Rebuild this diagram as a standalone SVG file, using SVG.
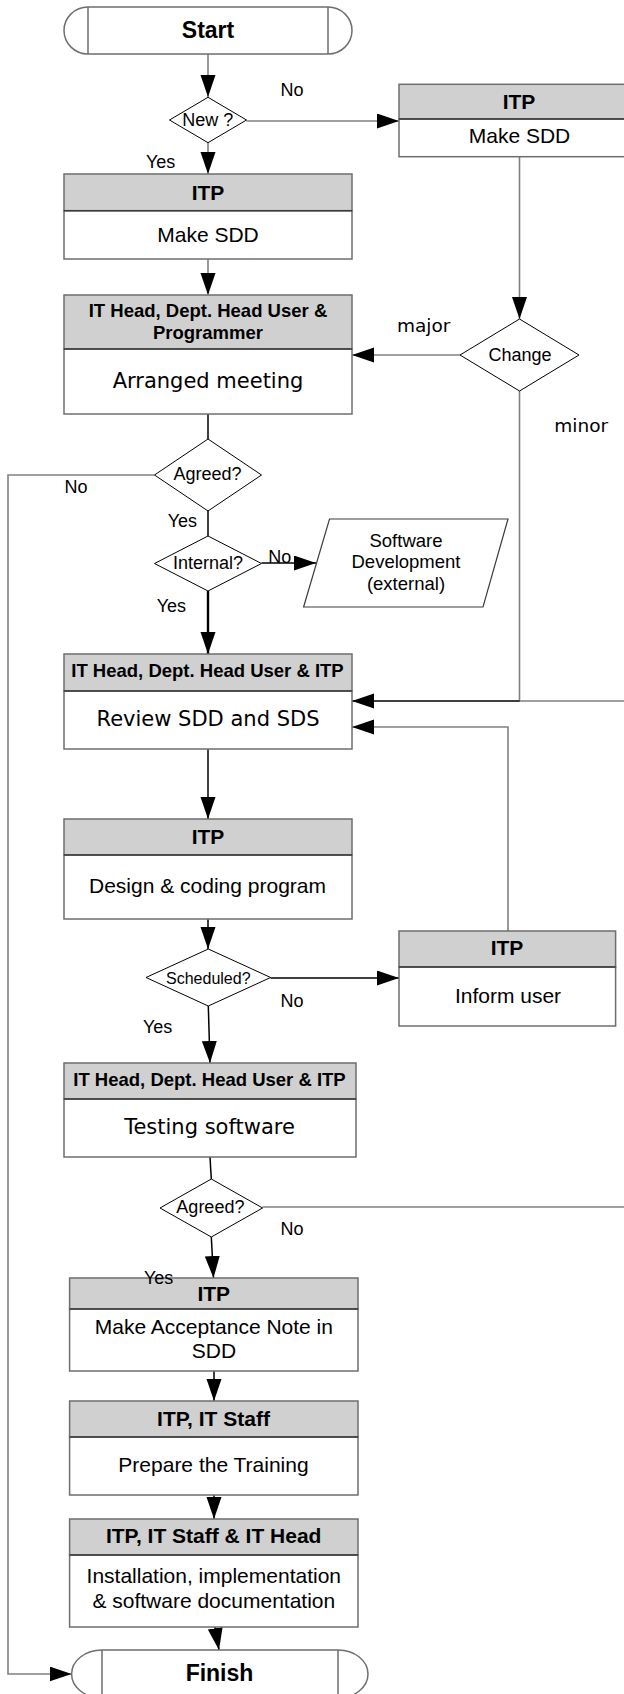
<svg xmlns="http://www.w3.org/2000/svg" width="624" height="1694" viewBox="0 0 624 1694">
  <defs>
    <marker id="arrow" markerUnits="userSpaceOnUse" markerWidth="24" markerHeight="16" refX="22" refY="7.5" orient="auto">
      <path d="M0,0 L22,7.5 L0,15 Z" fill="#000"/>
    </marker>
    <style>
      .box { fill: #fff; stroke: #6e6e6e; stroke-width: 1.5; }
      .head { fill: #d0d0d0; stroke: #6e6e6e; stroke-width: 1.5; }
      .sep { stroke: #3c3c3c; stroke-width: 1.5; }
      .term { fill: #fff; stroke: #6e6e6e; stroke-width: 1.5; }
      .dia { fill: #fff; stroke: #000; stroke-width: 1; }
      .para { fill: #fff; stroke: #3c3c3c; stroke-width: 1.2; }
      .grey { fill: none; stroke: #808080; stroke-width: 1.6; }
      .dark { fill: none; stroke: #000; stroke-width: 1.5; }
      .thick { fill: none; stroke: #000; stroke-width: 2.4; }
      .arr { marker-end: url(#arrow); }
      text { font-family: "Liberation Sans", Arial, sans-serif; fill: #000; }
      .tt { font-size: 23px; font-weight: bold; text-anchor: middle; }
      .ht { font-size: 21px; font-weight: bold; text-anchor: middle; }
      .hs { font-size: 18.5px; font-weight: bold; text-anchor: middle; }
      .bt { font-size: 21px; text-anchor: middle; }
      .vt { font-family: "DejaVu Sans", Verdana, sans-serif; font-size: 21px; text-anchor: middle; }
      .vl { font-family: "DejaVu Sans", Verdana, sans-serif; font-size: 18.5px; }
      .dt { font-size: 18px; text-anchor: middle; }
      .lb { font-size: 18px; }
      .pt { font-size: 18.5px; text-anchor: middle; }
    </style>
  </defs>

  <rect width="624" height="1694" fill="#fff"/>

  <!-- connectors -->
  <g id="connectors">
    <path class="grey arr" d="M208,54 V97"/>
    <path class="grey arr" d="M246.5,121 H399"/>
    <path class="grey arr" d="M208,142.7 V174"/>
    <path class="grey arr" d="M208,259 V295"/>
    <path class="grey arr" d="M519.5,156.7 V319"/>
    <path class="grey arr" d="M460,355 H352"/>
    <path class="dark" d="M208,414 V439"/>
    <path class="grey arr" d="M154.5,475 H8 V1674 H71.6"/>
    <path class="dark" d="M208,511 V536"/>
    <path class="dark arr" d="M261.5,563 H316"/>
    <path class="thick arr" d="M208,591 V654"/>
    <path class="grey" d="M519.5,391 V701 H630"/>
    <path class="grey" d="M262.6,1207 H630 V701"/>
    <path class="dark arr" d="M519.5,701 H352"/>
    <path class="grey arr" d="M508,931 V727 H352"/>
    <path class="dark arr" d="M208,749 V819"/>
    <path class="dark arr" d="M208,919 V949"/>
    <path class="dark arr" d="M270.6,978 H399"/>
    <path class="dark arr" d="M208.3,1006 L210,1063"/>
    <path class="dark" d="M210,1157 L211.3,1179"/>
    <path class="dark arr" d="M211.3,1237 L213.5,1278"/>
    <path class="dark arr" d="M214,1371 V1401"/>
    <path class="dark arr" d="M214,1495 V1519"/>
    <path class="dark arr" d="M215,1627 L219,1650"/>
  </g>

  <!-- Start terminal -->
  <g id="start">
    <path class="term" d="M88,7 H328 A24,23.5 0 0 1 328,54 H88 A24,23.5 0 0 1 88,7 Z"/>
    <path class="term" d="M88,7 V54 M328,7 V54"/>
    <text class="tt" x="208" y="38">Start</text>
  </g>

  <!-- New ? decision -->
  <g id="dec-new">
    <polygon class="dia" points="208,97.3 246.5,120 208,142.7 169.5,120"/>
    <text class="dt" x="207.7" y="126">New ?</text>
    <text class="lb" x="280.5" y="95.7">No</text>
    <text class="lb" x="146" y="167.7">Yes</text>
  </g>

  <!-- ITP / Make SDD (existing) -->
  <g id="itp-sdd-right">
    <rect class="head" x="399" y="84.3" width="241" height="34.7"/>
    <rect class="box" x="399" y="119" width="241" height="37.7"/>
    <line class="sep" x1="399" y1="119" x2="640" y2="119"/>
    <text class="ht" x="519" y="109.3">ITP</text>
    <text class="bt" x="519.5" y="143.3">Make SDD</text>
  </g>

  <!-- ITP / Make SDD (new) -->
  <g id="itp-sdd-left">
    <rect class="head" x="64" y="174" width="288" height="36.7"/>
    <rect class="box" x="64" y="210.7" width="288" height="48.3"/>
    <line class="sep" x1="64" y1="210.7" x2="352" y2="210.7"/>
    <text class="ht" x="208" y="199.5">ITP</text>
    <text class="bt" x="208" y="241.7">Make SDD</text>
  </g>

  <!-- Arranged meeting -->
  <g id="meeting">
    <rect class="head" x="64" y="295" width="288" height="54"/>
    <rect class="box" x="64" y="349" width="288" height="65"/>
    <line class="sep" x1="64" y1="349" x2="352" y2="349"/>
    <text class="hs" x="208" y="316.7">IT Head, Dept. Head User &amp;</text>
    <text class="hs" x="208" y="339">Programmer</text>
    <text class="vt" x="208" y="388.3">Arranged meeting</text>
  </g>

  <!-- Change decision -->
  <g id="dec-change">
    <polygon class="dia" points="519.5,319 579,355 519.5,391 460,355"/>
    <text class="dt" x="520" y="360.7">Change</text>
    <text class="vl" x="397" y="332">major</text>
    <text class="vl" x="554.3" y="431.7">minor</text>
  </g>

  <!-- Agreed? decision (meeting) -->
  <g id="dec-agreed1">
    <polygon class="dia" points="208,439 261.5,475 208,511 154.5,475"/>
    <text class="dt" x="207.5" y="480">Agreed?</text>
    <text class="lb" x="64.5" y="492.7">No</text>
    <text class="lb" x="167.7" y="526.7">Yes</text>
  </g>

  <!-- Internal? decision -->
  <g id="dec-internal">
    <polygon class="dia" points="208,536 261.5,563.5 208,591 154.5,563.5"/>
    <text class="dt" x="208" y="569">Internal?</text>
    <text class="lb" x="268.3" y="562.7">No</text>
    <text class="lb" x="156.7" y="611.7">Yes</text>
  </g>

  <!-- External development -->
  <g id="external">
    <polygon class="para" points="329.5,519 508,519 483,607 303.6,607"/>
    <text class="pt" x="406" y="546.7">Software</text>
    <text class="pt" x="406" y="568.3">Development</text>
    <text class="pt" x="406" y="589.5">(external)</text>
  </g>

  <!-- Review SDD and SDS -->
  <g id="review">
    <rect class="head" x="64" y="654" width="288" height="37"/>
    <rect class="box" x="64" y="691" width="288" height="58"/>
    <line class="sep" x1="64" y1="691" x2="352" y2="691"/>
    <text class="hs" x="207.5" y="677.3">IT Head, Dept. Head User &amp; ITP</text>
    <text class="vt" x="208" y="726">Review SDD and SDS</text>
  </g>

  <!-- Design & coding -->
  <g id="design">
    <rect class="head" x="64" y="819" width="288" height="36"/>
    <rect class="box" x="64" y="855" width="288" height="64"/>
    <line class="sep" x1="64" y1="855" x2="352" y2="855"/>
    <text class="ht" x="208" y="844">ITP</text>
    <text class="bt" x="207.5" y="892.7">Design &amp; coding program</text>
  </g>

  <!-- Scheduled? decision -->
  <g id="dec-scheduled">
    <polygon class="dia" points="208.3,949 270.6,977.5 208.3,1006 146,977.5"/>
    <text class="dt" x="208.3" y="984" style="font-size:16px">Scheduled?</text>
    <text class="lb" x="280.5" y="1006.7">No</text>
    <text class="lb" x="143" y="1033.3">Yes</text>
  </g>

  <!-- Inform user -->
  <g id="inform">
    <rect class="head" x="399" y="931" width="216.6" height="36"/>
    <rect class="box" x="399" y="967" width="216.6" height="59"/>
    <line class="sep" x1="399" y1="967" x2="615.6" y2="967"/>
    <text class="ht" x="507" y="955">ITP</text>
    <text class="bt" x="508" y="1003.3">Inform user</text>
  </g>

  <!-- Testing software -->
  <g id="testing">
    <rect class="head" x="64" y="1063" width="292" height="36"/>
    <rect class="box" x="64" y="1099" width="292" height="58"/>
    <line class="sep" x1="64" y1="1099" x2="356" y2="1099"/>
    <text class="hs" x="209.5" y="1086">IT Head, Dept. Head User &amp; ITP</text>
    <text class="vt" x="209.5" y="1134">Testing software</text>
  </g>

  <!-- Agreed? decision (testing) -->
  <g id="dec-agreed2">
    <polygon class="dia" points="211.3,1179 262.6,1208 211.3,1237 160,1208"/>
    <text class="dt" x="210.4" y="1213.3">Agreed?</text>
    <text class="lb" x="280.5" y="1235">No</text>
  </g>

  <!-- Acceptance note -->
  <g id="acceptance">
    <rect class="head" x="69.6" y="1278" width="288.4" height="31"/>
    <rect class="box" x="69.6" y="1309" width="288.4" height="62"/>
    <line class="sep" x1="69.6" y1="1309" x2="358" y2="1309"/>
    <text class="ht" x="213.8" y="1300.7">ITP</text>
    <text class="bt" x="213.9" y="1334">Make Acceptance Note in</text>
    <text class="bt" x="214" y="1358.3">SDD</text>
    <text class="lb" x="144" y="1284.3">Yes</text>
  </g>

  <!-- Prepare the training -->
  <g id="training">
    <rect class="head" x="69.6" y="1401" width="288.4" height="36"/>
    <rect class="box" x="69.6" y="1437" width="288.4" height="58"/>
    <line class="sep" x1="69.6" y1="1437" x2="358" y2="1437"/>
    <text class="ht" x="213.5" y="1426">ITP, IT Staff</text>
    <text class="bt" x="213.5" y="1471.7">Prepare the Training</text>
  </g>

  <!-- Installation -->
  <g id="installation">
    <rect class="head" x="69.6" y="1519" width="288.4" height="36"/>
    <rect class="box" x="69.6" y="1555" width="288.4" height="72"/>
    <line class="sep" x1="69.6" y1="1555" x2="358" y2="1555"/>
    <text class="ht" x="213.7" y="1542.7">ITP, IT Staff &amp; IT Head</text>
    <text class="bt" x="213.8" y="1583.3">Installation, implementation</text>
    <text class="bt" x="213.8" y="1608.3">&amp; software documentation</text>
  </g>

  <!-- Finish terminal -->
  <g id="finish">
    <path class="term" d="M102,1650 H338 A30,24 0 0 1 338,1698 H102 A30.4,24 0 0 1 102,1650 Z"/>
    <path class="term" d="M102,1650 V1698 M338,1650 V1698"/>
    <text class="tt" x="219.5" y="1680.7">Finish</text>
  </g>
</svg>
